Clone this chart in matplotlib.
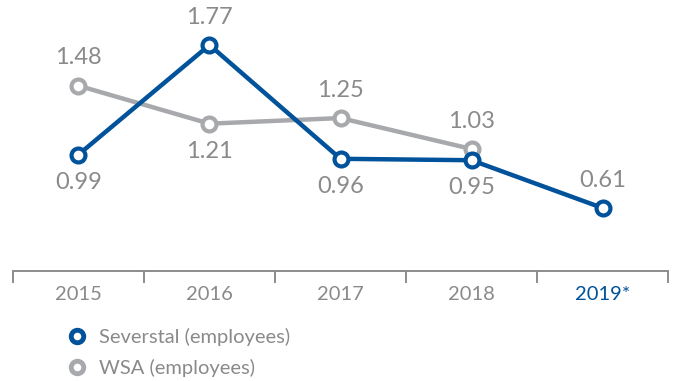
import matplotlib

matplotlib.use("Agg")
import matplotlib.pyplot as plt
from matplotlib.lines import Line2D

plt.rcParams["font.family"] = ["Lato", "DejaVu Sans"]

years = ["2015", "2016", "2017", "2018", "2019*"]
severstal = [0.99, 1.77, 0.96, 0.95, 0.61]
wsa = [1.48, 1.21, 1.25, 1.03]
severstal_label_pos = ["below", "above", "below", "below", "above"]
wsa_label_pos = ["above", "below", "above", "above"]

BLUE = "#00529b"
GREY = "#a7a9ac"
TEXT = "#8a8a8a"

fig = plt.figure(figsize=(6.75, 3.81), dpi=100)
ax = fig.add_axes([0, 0, 1, 1])
ax.set_xlim(-0.599, 4.553)
ax.set_ylim(-0.621, 2.09)
ax.axis("off")

# baseline with category dividers
base = 0.16
ax.plot([-0.5, len(years) - 0.5], [base, base], color="#8c8c8c", lw=1.4, solid_capstyle="butt")
for i in range(len(years) + 1):
    ax.plot([i - 0.5, i - 0.5], [base, base - 0.08], color="#8c8c8c", lw=1.4)
for i, y in enumerate(years):
    ax.text(i, base - 0.165, y, ha="center", va="center", fontsize=14.5,
            color=BLUE if y.endswith("*") else TEXT)

mk = dict(marker="o", markersize=10, markerfacecolor="white", markeredgewidth=3)
ax.plot(range(len(wsa)), wsa, color=GREY, lw=3.2, markeredgecolor=GREY, **mk, zorder=2)
ax.plot(range(len(severstal)), severstal, color=BLUE, lw=3.2, markeredgecolor=BLUE, **mk, zorder=3)

for vals, pos in ((severstal, severstal_label_pos), (wsa, wsa_label_pos)):
    for i, (v, p) in enumerate(zip(vals, pos)):
        dy = 20 if p == "above" else -20
        ax.annotate(f"{v:.2f}", (i, v), xytext=(0, dy), textcoords="offset points",
                    ha="center", va="center", fontsize=17, color=TEXT)

handles = [
    Line2D([], [], ls="none", marker="o", markersize=9, markerfacecolor="white",
           markeredgewidth=3.5, markeredgecolor=BLUE),
    Line2D([], [], ls="none", marker="o", markersize=9, markerfacecolor="white",
           markeredgewidth=3.5, markeredgecolor=GREY),
]
leg = fig.legend(handles, ["Severstal (employees)", "WSA (employees)"], loc="upper left",
                 bbox_to_anchor=(0.087, 0.16), frameon=False, fontsize=14.5,
                 handlelength=1.0, handletextpad=0.6, labelspacing=0.62, borderaxespad=0)
for t in leg.get_texts():
    t.set_color(TEXT)

fig.savefig("out.png", dpi=100)
